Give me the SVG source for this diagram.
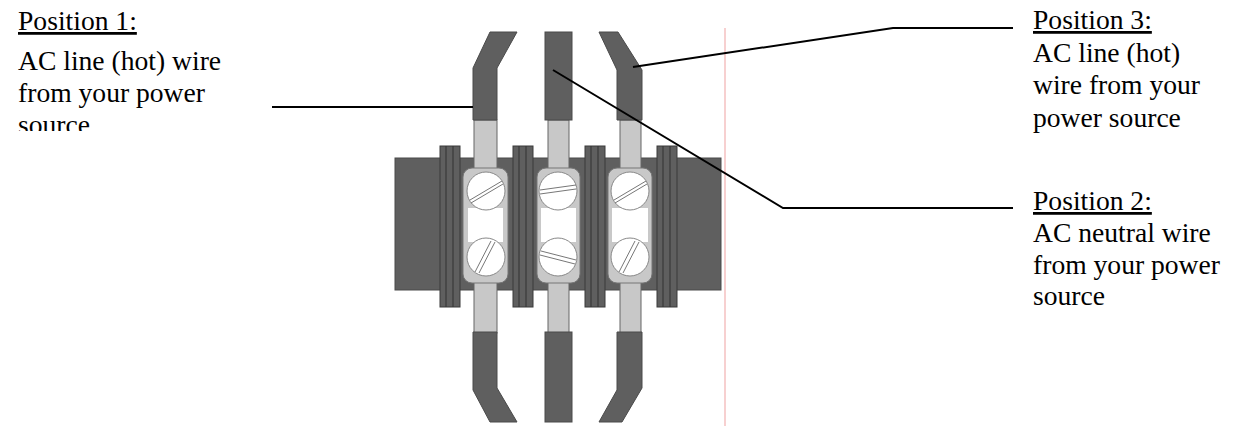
<svg xmlns="http://www.w3.org/2000/svg" width="1239" height="436" viewBox="0 0 1239 436">
<style>
text{font-family:"Liberation Serif",serif;font-size:27.6px;fill:#000}
.ins{fill:#5f5f5f;stroke:#4a4a4a;stroke-width:1}
.bare{fill:#c8c8c8;stroke:#666;stroke-width:1}
.body{fill:#5f5f5f;stroke:#4a4a4a;stroke-width:1}
.tab{fill:#5f5f5f;stroke:#3a3a3a;stroke-width:1}
.hous{fill:#c8c8c8;stroke:#777;stroke-width:1}
.screw{fill:#fff;stroke:#888;stroke-width:1}
.slot{stroke:#777;stroke-width:1;fill:none}
.lead{stroke:#000;stroke-width:2;fill:none}
.gap{fill:#fff}
</style>
<defs>
<clipPath id="c1"><rect x="0" y="0" width="260" height="131"/></clipPath>
</defs>
<line x1="725" y1="28" x2="725" y2="426" stroke="#f4c0c0" stroke-width="1.5"/>
<g id="block">
<rect class="body" x="395" y="158" width="326" height="132"/>
<rect class="tab" x="440" y="146" width="20" height="161"/>
<rect class="tab" x="513" y="146" width="20" height="161"/>
<rect class="tab" x="585" y="146" width="20" height="161"/>
<rect class="tab" x="657" y="146" width="20" height="161"/>
<g stroke="#333" stroke-width="1">
<line x1="446" y1="146" x2="446" y2="307"/><line x1="453" y1="146" x2="453" y2="307"/>
<line x1="519" y1="146" x2="519" y2="307"/><line x1="526" y1="146" x2="526" y2="307"/>
<line x1="591" y1="146" x2="591" y2="307"/><line x1="598" y1="146" x2="598" y2="307"/>
<line x1="663" y1="146" x2="663" y2="307"/><line x1="670" y1="146" x2="670" y2="307"/>
</g>
</g>
<g id="wire1">
<rect class="bare" x="474" y="120" width="23" height="50"/>
<rect class="bare" x="474" y="281" width="23" height="52"/>
<polygon class="ins" points="490,32 517,32 497,68 497,120 473,120 473,68"/>
<polygon class="ins" points="473,332 497,332 497,388 517,422 490,422 473,390"/>
<rect class="hous" x="463" y="168" width="45" height="115" rx="9"/>
<rect class="gap" x="468" y="208" width="35" height="34"/>
<circle class="screw" cx="486" cy="191" r="19"/>
<circle class="screw" cx="486" cy="257" r="19"/>
<path class="slot" d="M470,200 L502,181 M471,203 L503,184 M475,272 L491,241 M479,273 L495,242"/>
</g>
<g id="wire2">
<rect class="bare" x="548" y="120" width="21" height="50"/>
<rect class="bare" x="548" y="281" width="21" height="52"/>
<rect class="ins" x="545" y="32" width="27" height="88"/>
<rect class="ins" x="545" y="332" width="27" height="90"/>
<rect class="hous" x="537" y="168" width="43" height="115" rx="9"/>
<rect class="gap" x="541" y="208" width="35" height="34"/>
<circle class="screw" cx="558" cy="191" r="19"/>
<circle class="screw" cx="558" cy="257" r="19"/>
<path class="slot" d="M540,190 L576,185 M540,194 L576,189 M541,251 L576,260 M540,255 L575,264"/>
</g>
<g id="wire3">
<rect class="bare" x="620" y="120" width="21" height="50"/>
<rect class="bare" x="620" y="281" width="21" height="52"/>
<polygon class="ins" points="599,32 618,32 642,70 642,120 617,120 617,70"/>
<polygon class="ins" points="617,332 642,332 642,388 622,422 599,422 617,390"/>
<rect class="hous" x="608" y="168" width="44" height="115" rx="9"/>
<rect class="gap" x="612" y="208" width="36" height="34"/>
<circle class="screw" cx="630" cy="191" r="19"/>
<circle class="screw" cx="630" cy="257" r="19"/>
<path class="slot" d="M614,200 L646,181 M615,203 L647,184 M619,272 L635,241 M623,273 L639,242"/>
</g>
<g id="connectors">
<polyline class="lead" points="272,107 473,107"/>
<polyline class="lead" points="633,67 893,28 1013,28"/>
<polyline class="lead" points="553,70 783,208 1013,208"/>
</g>
<g id="label1" clip-path="url(#c1)">
<text x="18" y="30" text-decoration="underline">Position 1:</text>
<text x="18" y="70">AC line (hot) wire</text>
<text x="18" y="102">from your power</text>
<text x="18" y="134">source</text>
</g>
<g id="label3">
<text x="1033" y="29" text-decoration="underline">Position 3:</text>
<text x="1033" y="62">AC line (hot)</text>
<text x="1033" y="94">wire from your</text>
<text x="1033" y="127">power source</text>
</g>
<g id="label2">
<text x="1033" y="210" text-decoration="underline">Position 2:</text>
<text x="1033" y="242">AC neutral wire</text>
<text x="1033" y="274">from your power</text>
<text x="1033" y="305">source</text>
</g>
</svg>
